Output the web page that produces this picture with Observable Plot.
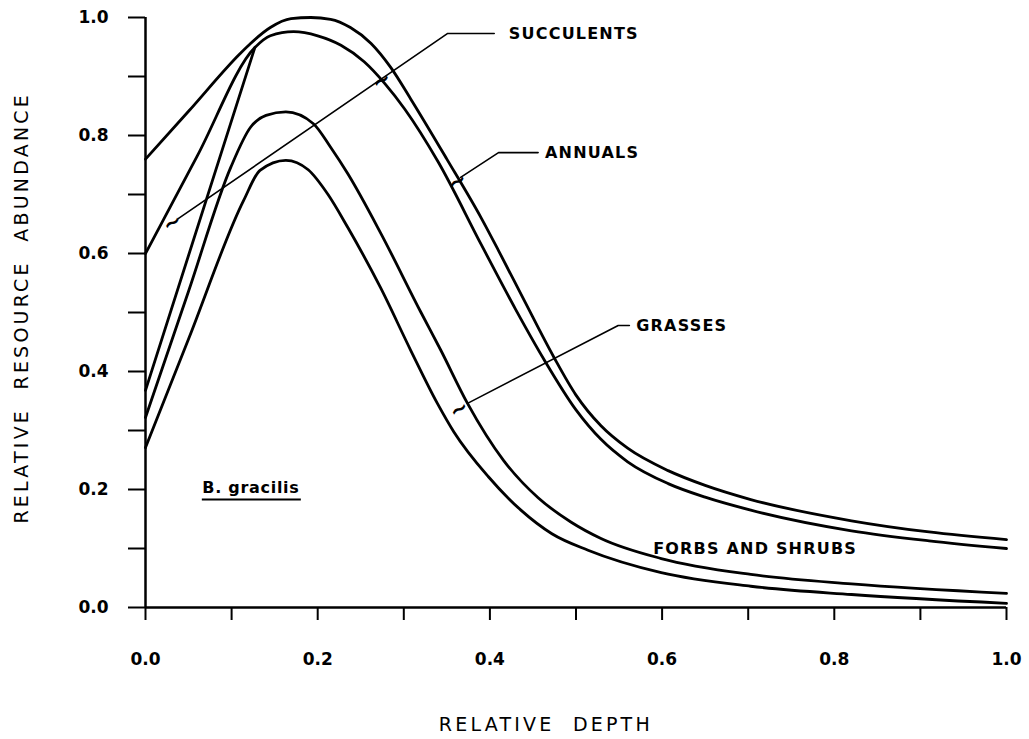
<!DOCTYPE html>
<html><head><meta charset="utf-8">
<script src="https://cdn.jsdelivr.net/npm/d3@7"></script>
<script src="https://cdn.jsdelivr.net/npm/@observablehq/plot@0.6"></script>
<style>html,body{margin:0;padding:0;background:#fff}svg{display:block}</style>
</head><body><div id="chart"></div>
<script>
// ---- data (relative depth, relative resource abundance) ----
const annualsDepth = [0, 0.05, 0.11, 0.122, 0.145, 0.169, 0.192, 0.215, 0.238, 0.262, 0.285, 0.308, 0.35, 0.39, 0.41, 0.44, 0.474, 0.5, 0.529, 0.56, 0.607, 0.65, 0.703, 0.82, 0.91, 1.0];
const annualsValue = [0.76, 0.841, 0.939, 0.956, 0.983, 0.998, 1.0, 0.997, 0.983, 0.956, 0.915, 0.862, 0.76, 0.66, 0.605, 0.52, 0.425, 0.36, 0.308, 0.27, 0.232, 0.207, 0.183, 0.147, 0.128, 0.115];

const succulentsDepth = [0, 0.06, 0.127, 0.145, 0.172, 0.2, 0.227, 0.254, 0.278, 0.301, 0.34, 0.39, 0.43, 0.463, 0.5, 0.529, 0.56, 0.607, 0.65, 0.703, 0.82, 0.91, 1.0];
const succulentsValue = [0.6, 0.765, 0.949, 0.969, 0.976, 0.969, 0.953, 0.925, 0.888, 0.845, 0.755, 0.615, 0.505, 0.42, 0.335, 0.285, 0.247, 0.21, 0.187, 0.165, 0.13, 0.113, 0.10];

const branchDepth = [0, 0.127];
const branchValue = [0.368, 0.949];

const grassesDepth = [0, 0.05, 0.099, 0.122, 0.14, 0.163, 0.195, 0.215, 0.235, 0.273, 0.32, 0.343, 0.374, 0.416, 0.456, 0.494, 0.529, 0.599, 0.703, 0.82, 1.0];
const grassesValue = [0.322, 0.536, 0.746, 0.814, 0.834, 0.84, 0.82, 0.78, 0.735, 0.635, 0.5, 0.436, 0.346, 0.249, 0.186, 0.145, 0.117, 0.083, 0.056, 0.04, 0.024];

const forbsDepth = [0, 0.05, 0.114, 0.133, 0.163, 0.189, 0.212, 0.235, 0.273, 0.308, 0.339, 0.358, 0.398, 0.436, 0.472, 0.514, 0.599, 0.703, 0.82, 1.0];
const forbsValue = [0.271, 0.455, 0.69, 0.741, 0.758, 0.742, 0.7, 0.644, 0.542, 0.436, 0.346, 0.298, 0.222, 0.165, 0.125, 0.097, 0.059, 0.036, 0.022, 0.007];

const xTicks = [0, 0.1, 0.2, 0.3, 0.4, 0.5, 0.6, 0.7, 0.8, 0.9, 1.0];
const yTicks = [0, 0.1, 0.2, 0.3, 0.4, 0.5, 0.6, 0.7, 0.8, 0.9, 1.0];
const tickLabels = ["0.0", "", "0.2", "", "0.4", "", "0.6", "", "0.8", "", "1.0"];

const labelNames = ["SUCCULENTS", "ANNUALS", "GRASSES"];
// ---- annotations ----
const labelX = [0.422, 0.464, 0.570];
const labelY = [0.973, 0.771, 0.478];
const leaders = [
  [[0.038, 0.659], [0.351, 0.973], [0.405, 0.973]],
  [[0.366, 0.729], [0.41, 0.771], [0.456, 0.771]],
  [[0.374, 0.346], [0.549, 0.478], [0.562, 0.478]]
];
const tildes = [[0.031, 0.652], [0.362, 0.722], [0.364, 0.336], [0.274, 0.893]];

const toRows = (xs, ys, name) => xs.map((x, i) => ({x, y: ys[i], name}));
const curves = [
  ...toRows(annualsDepth, annualsValue, "annuals"),
  ...toRows(succulentsDepth, succulentsValue, "succulents"),
  ...toRows(branchDepth, branchValue, "branch"),
  ...toRows(grassesDepth, grassesValue, "grasses"),
  ...toRows(forbsDepth, forbsValue, "forbs")
];
const leaderRows = leaders.flatMap((pts, k) => pts.map(([x, y]) => ({x, y, k})));
const labelRows = labelNames.map((t, i) => ({t, x: labelX[i], y: labelY[i]}));

const FONT = "DejaVu Sans";
const chart = Plot.plot({
  width: 1029, height: 739,
  marginLeft: 145, marginRight: 23, marginTop: 17, marginBottom: 132,
  style: {fontFamily: FONT, background: "#fff", color: "#000"},
  x: {domain: [0, 1]},
  y: {domain: [0, 1]},
  marks: [
    Plot.axisY(yTicks, {tickSize: 17, tickPadding: 20, tickFormat: (d, i) => tickLabels[i], fontSize: 17, fontWeight: "bold", strokeWidth: 2, label: null}),
    Plot.axisX(xTicks, {tickSize: 13, tickPadding: 32, tickFormat: (d, i) => tickLabels[i], fontSize: 17, fontWeight: "bold", strokeWidth: 2, label: null}),
    Plot.ruleX([0], {y1: 0, y2: 1, strokeWidth: 2.5}),
    Plot.ruleY([0], {x1: 0, x2: 1, strokeWidth: 2.5}),
    Plot.line(curves, {x: "x", y: "y", z: "name", curve: "monotone-x", stroke: "#000", strokeWidth: 2.8}),
    Plot.line(leaderRows, {x: "x", y: "y", z: "k", stroke: "#000", strokeWidth: 1.6}),
    Plot.text(tildes, {x: d => d[0], y: d => d[1], text: () => "~", fontSize: 22, rotate: -30, fontWeight: "bold"}),
    Plot.text(labelRows, {x: "x", y: "y", text: "t", textAnchor: "start", fontSize: 16, fontWeight: "bold", className: "lbl"}),
    Plot.text(["FORBS AND SHRUBS"], {x: 0.708, y: 0.10, textAnchor: "middle", fontSize: 16, fontWeight: "bold", className: "lbl"}),
    Plot.text(["B. gracilis"], {x: 0.066, y: 0.202, textAnchor: "start", fontSize: 16, fontWeight: "bold", className: "lbl2"}),
    Plot.ruleY([0.183], {x1: 0.066, x2: 0.181, strokeWidth: 2}),
    Plot.text(["RELATIVE  DEPTH"], {x: 0.465, y: 0, dy: 117, fontSize: 19, className: "ttl"}),
    Plot.text(["RELATIVE  RESOURCE  ABUNDANCE"], {frameAnchor: "left", y: 0.508, dx: -124, rotate: -90, textAnchor: "middle", fontSize: 19, className: "ttl"})
  ]
});
d3.select(chart).selectAll(".ttl text").style("letter-spacing", "3.2px").style("white-space", "pre");
d3.select(chart).selectAll(".lbl text").style("letter-spacing", "1.2px");
d3.select(chart).selectAll(".lbl2 text").style("letter-spacing", "0.7px");
document.getElementById("chart").append(chart);
</script></body></html>
